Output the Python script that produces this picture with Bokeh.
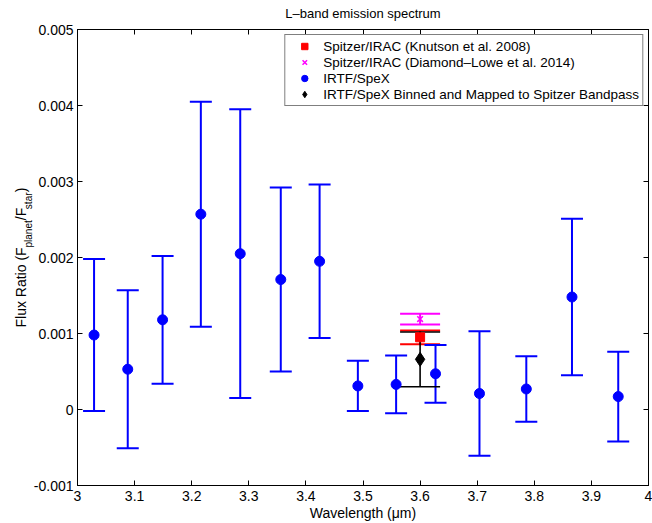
import math
import numpy as np
from bokeh.plotting import figure
from bokeh.models import (Range1d, LinearAxis, FixedTicker, Whisker, TeeHead,
                          ColumnDataSource, Legend, LegendItem, Label,
                          CustomLabelingPolicy)
from bokeh.embed import file_html
from bokeh.resources import INLINE

# ---------------- data ----------------
wl_spex = [3.029, 3.088, 3.149, 3.216, 3.285, 3.356, 3.424, 3.491, 3.558, 3.627,
           3.704, 3.786, 3.866, 3.947]
fr_spex = [0.00098, 0.00053, 0.00118, 0.00257, 0.00205, 0.00171, 0.00195, 0.00031,
           0.00033, 0.00047, 0.00021, 0.00027, 0.00148, 0.00017]
err_spex = [0.00100, 0.00104, 0.00084, 0.00148, 0.00190, 0.00121, 0.00101, 0.00033,
            0.00038, 0.00038, 0.00082, 0.00043, 0.00103, 0.00059]

wl_knutson = [3.6]
fr_knutson = [0.00095]
err_knutson = [0.00009]

wl_diamond = [3.6]
fr_diamond = [0.00119]
err_diamond = [0.00007]

wl_binned = [3.6]
fr_binned = [0.00066]
err_binned = [0.00036]

x_ticks = [3.0, 3.1, 3.2, 3.3, 3.4, 3.5, 3.6, 3.7, 3.8, 3.9, 4.0]
x_tick_labels = ["3", "3.1", "3.2", "3.3", "3.4", "3.5", "3.6", "3.7", "3.8", "3.9", "4"]
y_ticks = [-0.001, 0.0, 0.001, 0.002, 0.003, 0.004, 0.005]
y_tick_labels = ["-0.001", "0", "0.001", "0.002", "0.003", "0.004", "0.005"]

legend_labels = ["Spitzer/IRAC (Knutson et al. 2008)",
                 "Spitzer/IRAC (Diamond\u2013Lowe et al. 2014)",
                 "IRTF/SpeX",
                 "IRTF/SpeX Binned and Mapped to Spitzer Bandpass"]

title_text = "L\u2013band emission spectrum"
x_label_text = "Wavelength (\u03bcm)"
NB = "\u00a0"
y_label_main = "Flux Ratio (F" + NB * 7 + "/F" + NB * 4 + ")"
y_label_subs = "planet" + NB * 4 + "star"

FONT = "Liberation Sans"

# ---------------- figure ----------------
p = figure(width=652, height=523, output_backend="svg", toolbar_location=None,
           title=None,
           x_range=Range1d(x_ticks[0], x_ticks[-1]),
           y_range=Range1d(y_ticks[0], y_ticks[-1]),
           min_border_left=77, min_border_right=4, min_border_top=29,
           min_border_bottom=38)
p.background_fill_color = "white"
p.border_fill_color = "white"
p.grid.visible = False
p.outline_line_color = "black"
p.outline_line_width = 1

no_labels = CustomLabelingPolicy(code="""
    for (const i of Array.from(indices)) { indices.unset(i) }
    return indices
""")

def style_axis(ax, ticks, labels, show_labels):
    ax.ticker = FixedTicker(ticks=ticks)
    ax.major_tick_in = 5
    ax.major_tick_out = 0
    ax.minor_tick_line_color = None
    ax.axis_line_color = "black"
    ax.major_tick_line_color = "black"
    ax.major_label_text_font = FONT
    ax.major_label_text_color = "black"
    if show_labels:
        ax.major_label_overrides = {t: s for t, s in zip(ticks, labels)}
        ax.major_label_text_font_size = "14px"
    else:
        ax.major_label_policy = no_labels
        ax.major_label_text_font_size = "0px"
        ax.major_label_standoff = 0

xa = p.xaxis[0]
ya = p.yaxis[0]
style_axis(xa, x_ticks, x_tick_labels, True)
style_axis(ya, y_ticks, y_tick_labels, True)
xa.major_label_standoff = 5
ya.major_label_standoff = 4
xa.axis_label = x_label_text
xa.axis_label_text_font = FONT
xa.axis_label_text_font_size = "14px"
xa.axis_label_text_font_style = "normal"
xa.axis_label_text_color = "black"
xa.axis_label_standoff = 1

top_ax = LinearAxis()
right_ax = LinearAxis()
style_axis(top_ax, x_ticks, x_tick_labels, False)
style_axis(right_ax, y_ticks, y_tick_labels, False)
p.add_layout(top_ax, "above")
p.add_layout(right_ax, "right")

# ---------------- title and y label (side-panel labels, px positions) ----------------
p.add_layout(Label(x=285.5, y=16, x_units="screen", y_units="screen",
                   text=title_text, text_font=FONT, text_font_size="13px",
                   text_color="black", text_align="center",
                   text_baseline="alphabetic"), "above")
p.add_layout(Label(x=6.5, y=158, x_units="screen", y_units="screen",
                   text=y_label_main, angle=math.pi / 2, text_font=FONT,
                   text_font_size="14px", text_color="black",
                   text_align="left", text_baseline="alphabetic"), "left")
p.add_layout(Label(x=25.2, y=238, x_units="screen", y_units="screen",
                   text=y_label_subs, angle=math.pi / 2, text_font=FONT,
                   text_font_size="10px", text_color="black",
                   text_align="left", text_baseline="alphabetic"), "left")

# ---------------- error bars ----------------
def add_err(xs, ys, es, color, lw, cap):
    src = ColumnDataSource(dict(base=xs,
                                lower=list(np.array(ys) - np.array(es)),
                                upper=list(np.array(ys) + np.array(es))))
    w = Whisker(base="base", lower="lower", upper="upper", source=src,
                dimension="height", line_color=color, line_width=lw,
                upper_head=TeeHead(size=cap, line_color=color, line_width=lw),
                lower_head=TeeHead(size=cap, line_color=color, line_width=lw))
    p.add_layout(w)

add_err(wl_knutson, fr_knutson, err_knutson, "red", 2, 40)
add_err(wl_diamond, fr_diamond, err_diamond, "magenta", 2, 40)
add_err(wl_spex, fr_spex, err_spex, "blue", 2, 22)
add_err(wl_binned, fr_binned, err_binned, "black", 1.6, 40)

# ---------------- markers ----------------
r_knut = p.scatter(wl_knutson, fr_knutson, marker="square", size=9,
                   fill_color="red", line_color="red")
r_diam = p.scatter(wl_diamond, fr_diamond, marker="x", size=8,
                   line_color="magenta", line_width=1.5)
r_spex = p.scatter(wl_spex, fr_spex, marker="circle", size=10,
                   fill_color="blue", line_color="blue")
r_bin = p.scatter(wl_binned, fr_binned, marker="diamond", size=14,
                  fill_color="black", line_color="black")

legend = Legend(items=[LegendItem(label=legend_labels[0], renderers=[r_knut]),
                       LegendItem(label=legend_labels[1], renderers=[r_diam]),
                       LegendItem(label=legend_labels[2], renderers=[r_spex]),
                       LegendItem(label=legend_labels[3], renderers=[r_bin])],
                location="top_right", margin=5, padding=3, spacing=0,
                label_height=16, glyph_height=16, glyph_width=32,
                label_standoff=3, label_text_font=FONT,
                label_text_font_size="13.5px", label_text_color="black",
                border_line_color="black", border_line_width=1,
                background_fill_color="white", background_fill_alpha=1.0)
p.add_layout(legend)

open("out.html", "w").write(file_html(p, INLINE))
